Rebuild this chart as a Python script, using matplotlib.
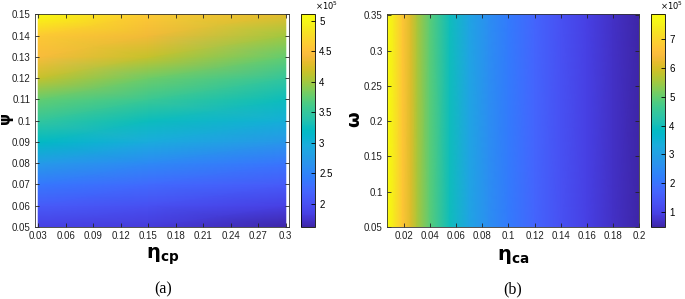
import numpy as np
import matplotlib.pyplot as plt
from matplotlib.colors import LinearSegmentedColormap

# parula colormap (MATLAB), sampled anchors
parula_pts = [
    (0.2422, 0.1504, 0.6603), (0.2647, 0.1978, 0.7952), (0.2783, 0.2559, 0.8991),
    (0.2813, 0.3006, 0.9414), (0.2795, 0.3447, 0.9717), (0.2699, 0.3892, 0.9906),
    (0.2440, 0.4358, 0.9988), (0.1963, 0.4847, 0.9892), (0.1786, 0.5289, 0.9682),
    (0.1687, 0.5703, 0.9359), (0.1460, 0.6091, 0.9079), (0.1248, 0.6459, 0.8883),
    (0.0952, 0.6798, 0.8598), (0.0297, 0.7082, 0.8163), (0.0067, 0.7312, 0.7660),
    (0.0964, 0.7500, 0.7120), (0.1717, 0.7670, 0.6554), (0.2161, 0.7843, 0.5923),
    (0.2906, 0.7973, 0.5188), (0.3909, 0.8029, 0.4354), (0.5044, 0.7993, 0.3480),
    (0.6174, 0.7876, 0.2612), (0.7242, 0.7698, 0.1910), (0.8203, 0.7498, 0.1535),
    (0.9035, 0.7330, 0.1774), (0.9728, 0.7298, 0.2394), (0.9970, 0.7659, 0.2199),
    (0.9892, 0.8136, 0.1885), (0.9736, 0.8637, 0.1546), (0.9626, 0.9167, 0.1171),
    (0.9661, 0.9711, 0.0868), (0.9763, 0.9831, 0.0538),
]
parula = LinearSegmentedColormap.from_list("parula", parula_pts)

# (a) eta_cp vs psi, values x1e5
eta_cp = [0.03, 0.15, 0.30]
psi = [0.05, 0.06, 0.07, 0.08, 0.09, 0.10, 0.11, 0.12, 0.13, 0.14, 0.15]
val_a = [
    [1.85, 1.80, 1.62],
    [2.10, 2.00, 1.85],
    [2.38, 2.25, 2.10],
    [2.75, 2.55, 2.35],
    [3.20, 2.95, 2.70],
    [3.50, 3.25, 3.00],
    [3.75, 3.55, 3.25],
    [4.15, 3.80, 3.50],
    [4.45, 4.15, 3.75],
    [4.60, 4.40, 4.00],
    [5.11, 4.60, 4.30],
]

# (b) eta_ca vs omega, values x1e5 (no dependence on omega)
eta_ca = [0.007, 0.012, 0.019, 0.025, 0.03, 0.04, 0.055, 0.07, 0.085, 0.10,
          0.12, 0.14, 0.16, 0.18, 0.20]
omega = [0.05, 0.352]
val_b = [7.87, 7.40, 6.70, 6.10, 5.60, 4.90, 3.95, 3.10, 2.55, 2.15,
         1.70, 1.30, 0.95, 0.70, 0.48]

plt.rcParams['font.family'] = ['Liberation Sans', 'DejaVu Sans']

fig = plt.figure(figsize=(6.85, 2.99), dpi=100)
W, H = 685, 299


def box(l, t, r, b):
    return [l / W, 1 - b / H, (r - l) / W, (b - t) / H]


def style(ax):
    ax.tick_params(direction='in', length=3, width=0.6, labelsize=7,
                   top=True, right=True, pad=3, colors='#222222')
    for s in ax.spines.values():
        s.set_linewidth(0.6)
        s.set_color('#333333')


# panel (a)
ax1 = fig.add_axes(box(35, 14, 289, 227))
za = np.array(val_a)
m1 = ax1.pcolormesh(eta_cp, psi, za, cmap=parula, shading='gouraud',
                    vmin=za.min(), vmax=za.max())
ax1.set_xlim(0.0265, 0.3035)
ax1.set_ylim(0.05, 0.1502)
ax1.set_xticks([0.03, 0.06, 0.09, 0.12, 0.15, 0.18, 0.21, 0.24, 0.27, 0.3])
ax1.set_xticklabels(['0.03', '0.06', '0.09', '0.12', '0.15', '0.18', '0.21',
                     '0.24', '0.27', '0.3'])
ax1.set_yticks([0.05, 0.06, 0.07, 0.08, 0.09, 0.1, 0.11, 0.12, 0.13, 0.14, 0.15])
ax1.set_yticklabels(['0.05', '0.06', '0.07', '0.08', '0.09', '0.1', '0.11',
                     '0.12', '0.13', '0.14', '0.15'])
style(ax1)
cax1 = fig.add_axes(box(301, 14, 315, 227))
cb1 = fig.colorbar(m1, cax=cax1)
cb1.set_ticks([2, 2.5, 3, 3.5, 4, 4.5, 5])
cb1.set_ticklabels(['2', '2.5', '3', '3.5', '4', '4.5', '5'])
cax1.tick_params(direction='in', length=3, width=0.6, labelsize=7, pad=3)
cb1.outline.set_linewidth(0.6)
fig.text(315 / W, 1 - 6 / H, r'$\times10^5$', fontsize=6, va='center', ha='left')

fig.text(163 / W, 1 - 256 / H, r'$\mathbf{\eta_{cp}}$', fontsize=14,
         ha='center', va='center')
fig.text(163 / W, 1 - 289 / H, '(a)', fontsize=11.5, ha='center', va='center',
         family='Liberation Serif')
fig.text(8 / W, 1 - 120 / H, r'$\mathbf{\psi}$', fontsize=11, ha='center',
         va='center', rotation=90)

# panel (b)
ax2 = fig.add_axes(box(387, 14, 639, 227))
zb = np.tile(np.array(val_b), (len(omega), 1))
m2 = ax2.pcolormesh(eta_ca, omega, zb, cmap=parula, shading='gouraud',
                    vmin=zb.min(), vmax=zb.max())
ax2.set_xlim(0.007, 0.2)
ax2.set_ylim(0.05, 0.352)
ax2.set_xticks([0.02, 0.04, 0.06, 0.08, 0.1, 0.12, 0.14, 0.16, 0.18, 0.2])
ax2.set_xticklabels(['0.02', '0.04', '0.06', '0.08', '0.1', '0.12', '0.14',
                     '0.16', '0.18', '0.2'])
ax2.set_yticks([0.05, 0.1, 0.15, 0.2, 0.25, 0.3, 0.35])
ax2.set_yticklabels(['0.05', '0.1', '0.15', '0.2', '0.25', '0.3', '0.35'])
style(ax2)
cax2 = fig.add_axes(box(651, 14, 665, 227))
cb2 = fig.colorbar(m2, cax=cax2)
cb2.set_ticks([1, 2, 3, 4, 5, 6, 7])
cax2.tick_params(direction='in', length=3, width=0.6, labelsize=7, pad=3)
cb2.outline.set_linewidth(0.6)
fig.text(683 / W, 1 - 6 / H, r'$\times10^5$', fontsize=6, va='center', ha='right')

fig.text(513 / W, 1 - 256 / H, r'$\mathbf{\eta_{ca}}$', fontsize=14,
         ha='center', va='center')
fig.text(513 / W, 1 - 289 / H, '(b)', fontsize=11.5, ha='center', va='center',
         family='Liberation Serif')
fig.text(355 / W, 1 - 120 / H, r'$\mathbf{\omega}$', fontsize=13, ha='center',
         va='center', rotation=90)

fig.savefig('out.png', dpi=100)
